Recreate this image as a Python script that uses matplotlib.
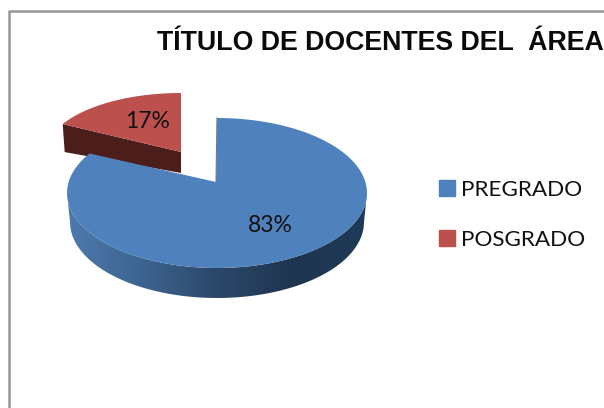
import numpy as np
import matplotlib
matplotlib.use("Agg")
import matplotlib.pyplot as plt
from matplotlib.colors import LinearSegmentedColormap
from matplotlib.patches import Patch, Polygon

categories = ['PREGRADO', 'POSGRADO']
values = [83, 17]
labels = ['83%', '17%']
title = 'TÍTULO DE DOCENTES DEL  ÁREA'

top_colors = ['#4f81bd', '#bc504d']
red_wall = '#4b1e1b'
blue_wall = ['#4d7aad', '#3d6490', '#2b4769', '#1e3550', '#1f3a58']


def ellipse(theta, cx, cy, rx, ry):
    # theta in degrees, clockwise from 12 o'clock
    t = np.radians(theta)
    return np.column_stack([cx + rx * np.sin(t), cy - ry * np.cos(t)])


fracs = np.array(values) / sum(values) * 360

fig = plt.figure(figsize=(6.04, 4.08), dpi=100)
ax = fig.add_axes([0, 0, 1, 1])

# red slice, pulled out and further back so it is smaller
red_arc = ellipse(np.linspace(fracs[0], 360, 40), 181, 153, 135, 60)
red_apex = np.array([181, 152])
ax.fill([red_arc[0, 0], red_apex[0], red_apex[0], red_arc[0, 0] + 2],
        [red_arc[0, 1], red_apex[1], red_apex[1] + 21, red_arc[0, 1] + 28],
        color=red_wall, lw=0, zorder=1)
red_pts = np.vstack([red_apex, red_arc])
ax.fill(red_pts[:, 0], red_pts[:, 1], color=top_colors[1], lw=0, zorder=2)

# blue side wall with gradient, lower rim a bit narrower for the perspective
sweep = np.linspace(90, 270, 80)
front = ellipse(sweep, 217, 193, 150, 75)
lower = ellipse(sweep, 217, 222, 147, 76)
wall = np.vstack([front, lower[::-1]])
wall_patch = Polygon(wall, closed=True, transform=ax.transData, fc='none', ec='none')
ax.add_patch(wall_patch)
cmap = LinearSegmentedColormap.from_list('wall', blue_wall[::-1])
img = ax.imshow(np.linspace(0, 1, 256)[::-1].reshape(1, -1), cmap=cmap, aspect='auto',
                extent=[67, 368, 300, 190], zorder=3)
img.set_clip_path(wall_patch)

# blue top, perspective opens the far end of the slice by a few degrees
blue_arc = ellipse(np.linspace(0, fracs[0] + 3, 160), 217, 193, 150, 75)
blue_apex = np.array([216, 182])
blue_pts = np.vstack([blue_apex, blue_arc])
ax.fill(blue_pts[:, 0], blue_pts[:, 1], color=top_colors[0], lw=0, zorder=4)
ax.plot([blue_apex[0], blue_arc[0, 0]], [blue_apex[1], blue_arc[0, 1]],
        color='#6d7f96', lw=0.8, zorder=5)

# chart frame, runs off the picture on the right and at the bottom
ax.plot([9, 9, 604], [408, 11, 11], color='#979797', lw=1.8, zorder=6)

ax.set_xlim(0, 604)
ax.set_ylim(408, 0)
ax.axis('off')

ax.text(380, 43, title, ha='center', va='center', fontsize=19.3, fontweight='bold',
        family='Liberation Sans', color='#0a0a0a', zorder=7)
ax.text(270, 226, labels[0], ha='center', va='center', fontsize=16.5, family='Lato',
        color='#111111', zorder=7)
ax.text(148, 122, labels[1], ha='center', va='center', fontsize=16.5, family='Lato',
        color='#111111', zorder=7)

handles = [Patch(color=c) for c in top_colors]
leg = ax.legend(handles, categories, loc='upper left', bbox_to_anchor=(0.727, 0.558),
                frameon=False, handlelength=0.72, handleheight=0.72, handletextpad=0.24,
                labelspacing=1.3, borderpad=0, borderaxespad=0,
                prop={'family': 'Lato', 'size': 16.2})
for t in leg.get_texts():
    t.set_color('#111111')

fig.savefig('out.png', dpi=100)
